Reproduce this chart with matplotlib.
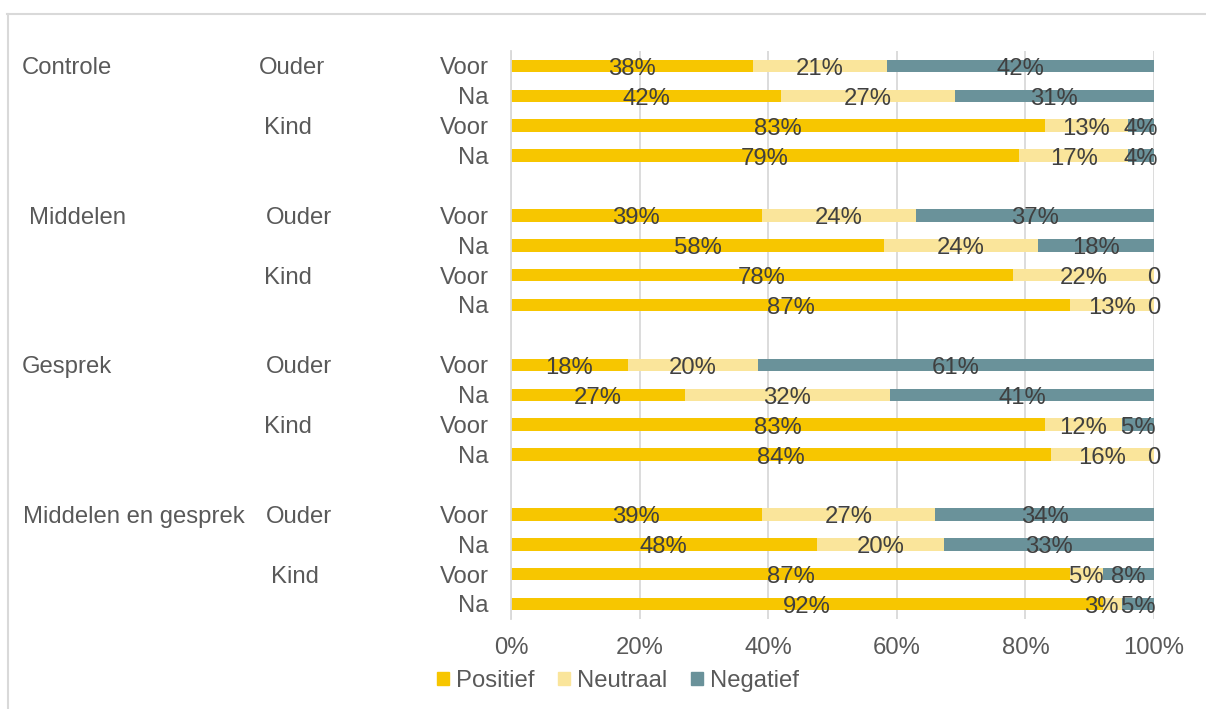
import matplotlib.pyplot as plt
import numpy as np
from matplotlib.transforms import blended_transform_factory
from matplotlib.patches import Patch

plt.rcParams['font.family'] = ['Liberation Sans', 'DejaVu Sans']

groups = ["Controle", "Middelen", "Gesprek", "Middelen en gesprek"]
persons = ["Ouder", "Kind"]
moments = ["Voor", "Na"]
series = ["Positief", "Neutraal", "Negatief"]

# rows per group: Ouder Voor, Ouder Na, Kind Voor, Kind Na
positief = [38, 42, 83, 79,
            39, 58, 78, 87,
            18, 27, 83, 84,
            39, 48, 87, 92]
neutraal = [21, 27, 13, 17,
            24, 24, 22, 13,
            20, 32, 12, 16,
            27, 20, 5, 3]
negatief = [42, 31, 4, 4,
            37, 18, 0, 0,
            61, 41, 5, 0,
            34, 33, 8, 5]

COLORS = ["#F7C600", "#FAE59B", "#6A929A"]
LABEL_COLOR = "#404040"
AXIS_COLOR = "#595959"
GRID_COLOR = "#D9D9D9"
FS = 17.2

W, H = 1206, 709
fig = plt.figure(figsize=(W / 100, H / 100), dpi=100)
ax = fig.add_axes([511 / W, 1 - 619 / H, 643 / W, 568 / H])

vals = np.array([positief, neutraal, negatief], dtype=float)
pct = vals / vals.sum(axis=0) * 100

# label nudged left in the original (last row, neutraal)
nudge = {(1, 15): -1.7}

ypos = np.array([g * 5 + j for g in range(4) for j in range(4)])
left = np.zeros(len(ypos))
for k in range(3):
    ax.barh(ypos, pct[k], left=left, height=0.42, color=COLORS[k], zorder=2)
    for i, (y, l, w, v) in enumerate(zip(ypos, left, pct[k], vals[k])):
        txt = f"{int(v)}%" if v > 0 else "0"
        ax.text(l + w / 2 + nudge.get((k, i), 0), y + 0.1, txt,
                ha='center', va='center',
                fontsize=FS, color=LABEL_COLOR, zorder=3)
    left = left + pct[k]

ax.set_xlim(0, 100)
ax.set_ylim(18.5, -0.5)
ax.set_xticks(np.arange(0, 101, 20))
ax.set_xticklabels([f"{t}%" for t in range(0, 101, 20)])
ax.tick_params(axis='x', length=0, pad=13, labelsize=FS, labelcolor=AXIS_COLOR)
ax.set_yticks([])
ax.grid(axis='x', color=GRID_COLOR, linewidth=1.3, zorder=0)
for s in ['top', 'right', 'bottom']:
    ax.spines[s].set_visible(False)
ax.spines['left'].set_color(GRID_COLOR)
ax.spines['left'].set_linewidth(1.3)

# multi-level category labels
tr = blended_transform_factory(fig.transFigure, ax.transData)
group_x = [22, 29, 22, 23]
ouder_x = [259, 266, 266, 266]
kind_x = [264, 264, 264, 271]
for g, name in enumerate(groups):
    y0 = g * 5 + 0.08
    ax.text(group_x[g] / W, y0, name, transform=tr, ha='left', va='center',
            fontsize=FS, color=AXIS_COLOR)
    ax.text(ouder_x[g] / W, y0, persons[0], transform=tr, ha='left',
            va='center', fontsize=FS, color=AXIS_COLOR)
    ax.text(kind_x[g] / W, y0 + 2, persons[1], transform=tr, ha='left',
            va='center', fontsize=FS, color=AXIS_COLOR)
    for j in range(4):
        ax.text(489 / W, y0 + j, moments[j % 2], transform=tr, ha='right',
                va='center', fontsize=FS, color=AXIS_COLOR)

handles = [Patch(color=c) for c in COLORS]
fig.legend(handles, series, loc='center', bbox_to_anchor=(618 / W, 1 - 681 / H),
           ncol=3, frameon=False, fontsize=FS, handlelength=0.5,
           handleheight=0.5, handletextpad=0.3, columnspacing=1.0,
           labelcolor=AXIS_COLOR)

# chart border (top and left visible)
fig.add_artist(plt.Line2D([7 / W, 1], [1 - 14 / H, 1 - 14 / H],
                          transform=fig.transFigure, color=GRID_COLOR, lw=1.5))
fig.add_artist(plt.Line2D([8 / W, 8 / W], [0, 1 - 14 / H],
                          transform=fig.transFigure, color=GRID_COLOR, lw=1.5))

fig.savefig("out.png", dpi=100)
